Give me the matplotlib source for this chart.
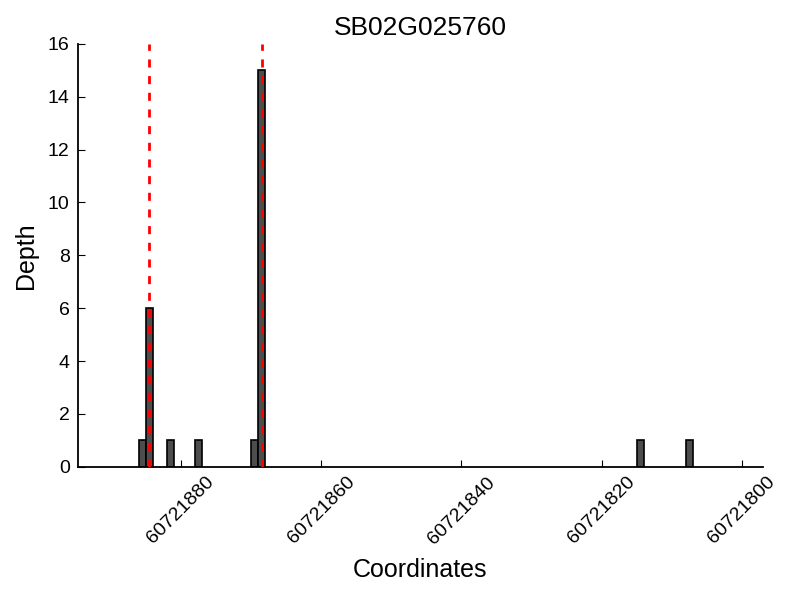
import matplotlib
matplotlib.use("Agg")
import matplotlib.pyplot as plt

plt.rcParams['font.family'] = ['Liberation Sans', 'DejaVu Sans']

title = "SB02G025760"
positions = [60721885, 60721884, 60721881, 60721877, 60721869, 60721868, 60721814, 60721807]
depths = [1, 6, 1, 1, 1, 15, 1, 1]
peak_lines = [60721884.5, 60721868.5]
xticks = [60721880, 60721860, 60721840, 60721820, 60721800]
yticks = [0, 2, 4, 6, 8, 10, 12, 14, 16]

fig = plt.figure(figsize=(8, 6), dpi=100)
ax = fig.add_axes([0.0975, 0.222, 0.856, 0.705])

ax.bar(positions, depths, width=1, align='edge', color='#4d4d4d',
       edgecolor='black', linewidth=1.2, zorder=2)
for p in peak_lines:
    ax.axvline(p, color='#ff0000', linestyle=(0, (2.9, 3.1)), linewidth=2, zorder=3)

ax.set_xlim(60721894.7, 60721797)
ax.set_ylim(0, 16)
ax.set_xticks(xticks)
ax.set_xticklabels([str(t) for t in xticks], rotation=45, fontsize=14,
                   ha='center', va='top')
ax.set_yticks(yticks)
ax.set_yticklabels([str(t) for t in yticks], fontsize=14)
ax.tick_params(direction='in', length=5, width=0.8)
ax.tick_params(axis='x', pad=5)
ax.tick_params(axis='y', pad=6)
for s in ['top', 'right']:
    ax.spines[s].set_visible(False)
for s in ['left', 'bottom']:
    ax.spines[s].set_linewidth(1.3)

ax.set_title(title, fontsize=19, pad=6)
ax.set_xlabel("Coordinates", fontsize=18, labelpad=8)
ax.set_ylabel("Depth", fontsize=18, labelpad=7)

fig.savefig("out.png", dpi=100)
